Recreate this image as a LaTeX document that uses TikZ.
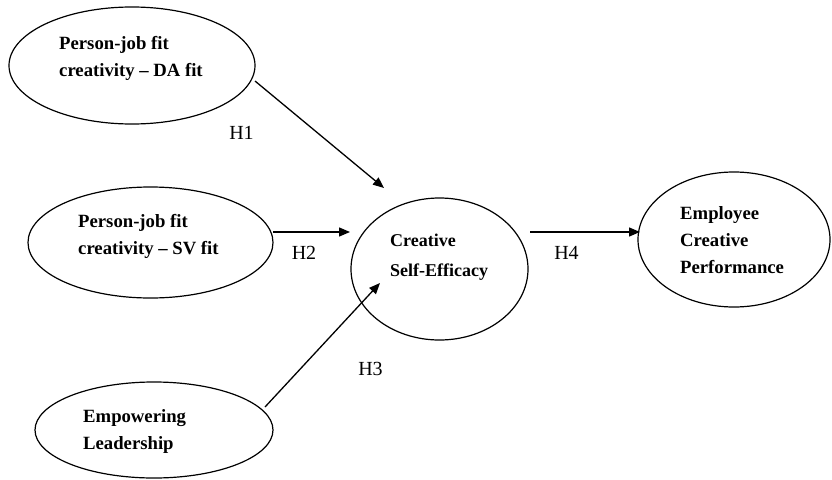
\documentclass[tikz,border=0pt]{standalone}
\usepackage{fontspec}
\setmainfont{Liberation Serif}
\usetikzlibrary{shapes.geometric,arrows.meta}
\begin{document}
\begin{tikzpicture}[x=1pt,y=-1pt,
 oval/.style={draw, ellipse, line width=1.2pt, inner sep=0pt},
 lbl/.style={font=\bfseries\fontsize{18.7}{27}\selectfont, align=left, anchor=west, inner sep=0pt},
 hyp/.style={font=\fontsize{20}{24}\selectfont, inner sep=0pt},
 arr/.style={-{Triangle[length=11pt,width=9pt]}, line width=1.3pt}]
\useasboundingbox (0,0) rectangle (832,479);
% ellipses
\node[oval, minimum width=246pt, minimum height=117pt] (e1) at (132,65.5) {};
\node[oval, minimum width=245pt, minimum height=111pt] (e2) at (150.5,242.5) {};
\node[oval, minimum width=238pt, minimum height=96pt] (e3) at (154,430) {};
\node[oval, minimum width=177pt, minimum height=142pt] (ec) at (439.5,269) {};
\node[oval, minimum width=192pt, minimum height=135pt] (er) at (734,239.5) {};
% texts
\node[lbl] (t1) at (59,58.5) {Person-job fit\\creativity -- DA fit};
\node[lbl] (t2) at (78,236.5) {Person-job fit\\creativity -- SV fit};
\node[lbl] (t3) at (83,431.5) {Empowering\\Leadership};
\node[lbl, font=\bfseries\fontsize{18}{30}\selectfont] (tc) at (390,257) {Creative\\Self-Efficacy};
\node[lbl, font=\bfseries\fontsize{18.7}{27}\selectfont] (tr) at (680,240) {Employee\\Creative\\Performance};
% hypothesis labels
\node[hyp] (h1) at (241.5,133) {H1};
\node[hyp] (h2) at (304,253) {H2};
\node[hyp] (h3) at (370.5,369) {H3};
\node[hyp] (h4) at (566.5,253) {H4};
% arrow endpoints
\coordinate (a1s) at (255,81);
\coordinate (a1e) at (384,188);
\coordinate (a2s) at (273,232);
\coordinate (a2e) at (350,232);
\coordinate (a3s) at (265,407);
\coordinate (a3e) at (380,283);
\coordinate (a4s) at (530,232);
\coordinate (a4e) at (640,232);
\draw[arr] (a1s) -- (a1e);
\draw[arr] (a2s) -- (a2e);
\draw[arr] (a3s) -- (a3e);
\draw[arr] (a4s) -- (a4e);
\end{tikzpicture}
\end{document}
